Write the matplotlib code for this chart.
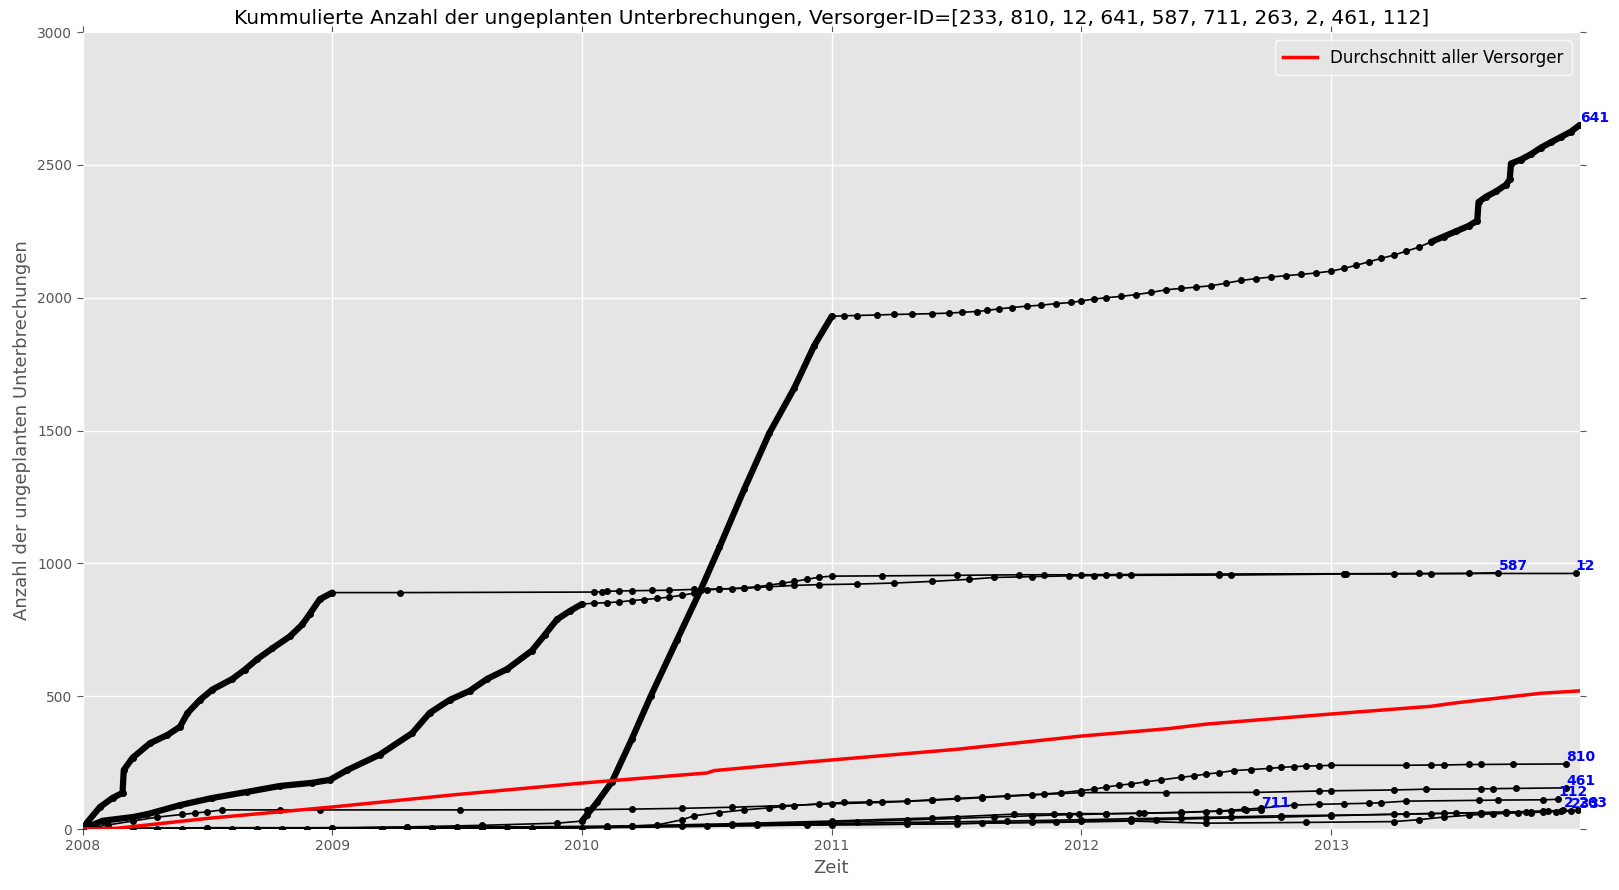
import matplotlib
matplotlib.use("Agg")
import matplotlib.pyplot as plt
import numpy as np

versorger_ids = [233, 810, 12, 641, 587, 711, 263, 2, 461, 112]

# cumulative counts, x in decimal years
x_641 = [2008.0, 2008.6, 2009.0, 2009.3, 2009.6, 2009.9, 2010.0, 2010.02, 2010.06, 2010.12, 2010.2, 2010.275,
         2010.38, 2010.475, 2010.55, 2010.65, 2010.75, 2010.85, 2010.93, 2011.0,
         2011.05, 2011.1, 2011.18, 2011.25, 2011.32, 2011.4, 2011.47, 2011.52, 2011.58, 2011.62, 2011.67,
         2011.72, 2011.78, 2011.84, 2011.9, 2011.96, 2012.0, 2012.05, 2012.1, 2012.16, 2012.22, 2012.28,
         2012.34, 2012.4, 2012.46, 2012.52, 2012.58, 2012.64, 2012.7, 2012.76, 2012.82, 2012.88, 2012.94,
         2013.0, 2013.05, 2013.1, 2013.15, 2013.2, 2013.25, 2013.3, 2013.35, 2013.4, 2013.45, 2013.5,
         2013.55, 2013.585, 2013.59, 2013.62, 2013.66, 2013.7, 2013.715, 2013.72, 2013.76, 2013.8, 2013.84,
         2013.88, 2013.92, 2013.96, 2013.995]
y_641 = [0, 2, 3, 8, 14, 22, 30, 54, 100, 178, 340, 500,
         711, 900, 1060, 1280, 1490, 1660, 1820, 1930,
         1932, 1933, 1935, 1937, 1938, 1940, 1942, 1945, 1948, 1952, 1958,
         1963, 1968, 1972, 1978, 1982, 1988, 1995, 2000, 2005, 2012, 2020,
         2030, 2035, 2040, 2045, 2055, 2065, 2072, 2078, 2083, 2088, 2093,
         2100, 2110, 2122, 2135, 2148, 2160, 2175, 2190, 2210, 2230, 2250,
         2270, 2290, 2360, 2380, 2400, 2425, 2445, 2505, 2520, 2540, 2565,
         2585, 2605, 2625, 2650]

x_587 = [2008.0, 2008.02, 2008.07, 2008.12, 2008.16, 2008.165, 2008.2, 2008.27, 2008.34, 2008.39, 2008.42,
         2008.47, 2008.52, 2008.6, 2008.65, 2008.7, 2008.76, 2008.83, 2008.88, 2008.91, 2008.95, 2009.0,
         2009.27, 2010.05, 2010.08, 2010.1, 2010.15, 2010.2, 2010.28, 2010.35, 2010.45, 2010.55, 2010.65,
         2010.75, 2010.85, 2010.95, 2011.1, 2011.25, 2011.4, 2011.55, 2011.65, 2011.8, 2011.95, 2012.05,
         2012.15, 2012.55, 2012.6, 2013.05, 2013.25, 2013.4, 2013.55, 2013.67]
y_587 = [0, 27, 83, 117, 136, 222, 268, 323, 354, 385, 436,
         486, 525, 565, 600, 640, 680, 725, 770, 810, 865, 890,
         890, 892, 893, 895, 896, 897, 898, 899, 902, 904, 906,
         912, 917, 920, 922, 926, 932, 940, 947, 950, 953, 954,
         955, 956, 956, 960, 960, 961, 962, 965]

x_12 = [2008.0, 2008.08, 2008.2, 2008.26, 2008.39, 2008.52, 2008.66, 2008.79, 2008.92, 2008.99, 2009.06,
        2009.19, 2009.32, 2009.39, 2009.47, 2009.55, 2009.62, 2009.7, 2009.8, 2009.85, 2009.9, 2009.95,
        2010.0, 2010.05, 2010.1, 2010.15, 2010.2, 2010.25, 2010.3, 2010.35, 2010.4, 2010.45, 2010.5,
        2010.55, 2010.6, 2010.65, 2010.7, 2010.75, 2010.8, 2010.85, 2010.9, 2010.95, 2011.0, 2011.2,
        2011.5, 2011.75, 2011.85, 2012.0, 2012.1, 2012.2, 2012.55, 2013.05, 2013.06, 2013.35, 2013.98]
y_12 = [0, 31, 45, 56, 90, 117, 140, 162, 174, 185, 222,
        280, 361, 437, 486, 520, 565, 602, 672, 730, 789, 820,
        847, 850, 852, 855, 860, 864, 868, 873, 880, 888, 900,
        903, 905, 908, 912, 918, 925, 932, 940, 948, 952, 953,
        955, 957, 957, 957, 958, 958, 960, 961, 961, 962, 962]

x_810 = [2008.0, 2008.7, 2009.4, 2010.0, 2010.3, 2010.4, 2010.45, 2010.55, 2010.65, 2010.75, 2010.85,
         2010.95, 2011.05, 2011.15, 2011.3, 2011.4, 2011.5, 2011.6, 2011.7, 2011.85, 2011.92, 2012.0,
         2012.05, 2012.1, 2012.15, 2012.2, 2012.26, 2012.32, 2012.4, 2012.45, 2012.5, 2012.55, 2012.61,
         2012.68, 2012.75, 2012.8, 2012.85, 2012.9, 2012.95, 2013.0, 2013.3, 2013.4, 2013.45, 2013.55,
         2013.6, 2013.73, 2013.94]
y_810 = [0, 1, 2, 4, 15, 35, 50, 62, 72, 80, 88,
         95, 100, 102, 105, 110, 115, 120, 125, 132, 137, 145,
         150, 158, 165, 170, 178, 185, 195, 200, 207, 212, 220,
         224, 228, 232, 235, 237, 238, 240, 240, 241, 241, 243,
         243, 244, 245]

x_461 = [2008.0, 2008.1, 2008.2, 2008.3, 2008.4, 2008.45, 2008.5, 2008.56, 2008.79, 2008.95, 2009.51,
         2010.02, 2010.2, 2010.4, 2010.6, 2010.8, 2011.0, 2011.2, 2011.4, 2011.6, 2011.8, 2012.0,
         2012.34, 2012.7, 2012.95, 2013.0, 2013.25, 2013.38, 2013.6, 2013.65, 2013.74, 2013.94]
y_461 = [0, 15, 30, 45, 55, 60, 65, 72, 72, 72, 72,
         73, 75, 78, 82, 88, 95, 100, 108, 118, 128, 137,
         137, 138, 143, 144, 147, 150, 151, 152, 153, 155]

x_112 = [2008.0, 2008.5, 2009.3, 2010.1, 2010.6, 2011.0, 2011.4, 2011.73, 2011.89, 2011.99, 2012.1,
         2012.23, 2012.4, 2012.55, 2012.65, 2012.72, 2012.85, 2012.95, 2013.05, 2013.15, 2013.2, 2013.3,
         2013.59, 2013.67, 2013.85, 2013.91]
y_112 = [0, 3, 6, 10, 20, 30, 42, 56, 57, 58, 58,
         59, 62, 68, 74, 79, 90, 93, 95, 97, 99, 105,
         108, 109, 110, 112]

x_711 = [2008.0, 2008.8, 2009.6, 2010.2, 2010.7, 2011.1, 2011.3, 2011.5, 2011.65, 2011.8, 2011.95,
         2012.1, 2012.25, 2012.4, 2012.5, 2012.6, 2012.66, 2012.72]
y_711 = [0, 2, 5, 10, 18, 28, 34, 40, 45, 50, 54,
         57, 60, 63, 66, 68, 70, 72]

x_233 = [2008.0, 2008.3, 2009.2, 2009.4, 2009.6, 2009.8, 2010.1, 2010.5, 2010.9, 2011.3, 2011.6,
         2011.9, 2012.2, 2012.5, 2012.9, 2013.25, 2013.35, 2013.45, 2013.55, 2013.6, 2013.65, 2013.7,
         2013.75, 2013.8, 2013.85, 2013.9, 2013.96]
y_233 = [0, 1, 2, 3, 4, 5, 5, 10, 15, 18, 22,
         25, 30, 22, 25, 28, 35, 45, 52, 55, 57, 59,
         61, 62, 64, 66, 68]

x_263 = [2008.0, 2008.2, 2008.5, 2009.0, 2009.5, 2010.2, 2010.6, 2011.0, 2011.3, 2011.7, 2012.0,
         2012.2, 2012.4, 2012.6, 2012.8, 2013.0, 2013.25, 2013.4, 2013.5, 2013.6, 2013.7, 2013.78,
         2013.85, 2013.92, 2013.99]
y_263 = [0, 3, 5, 5, 7, 10, 15, 20, 25, 30, 35,
         39, 42, 46, 50, 52, 55, 58, 60, 61, 63, 65,
         67, 69, 71]

x_2 = [2008.0, 2008.4, 2008.9, 2009.3, 2009.7, 2010.1, 2010.4, 2010.7, 2011.0, 2011.5, 2011.8,
       2012.0, 2012.3, 2012.5, 2012.8, 2013.0, 2013.3, 2013.45, 2013.6, 2013.7, 2013.8, 2013.87,
       2013.93]
y_2 = [0, 1, 2, 4, 6, 8, 12, 14, 16, 20, 26,
       30, 35, 40, 45, 50, 57, 59, 62, 64, 66, 68,
       70]

x_avg = [2008.0, 2008.14, 2008.5, 2009.0, 2009.5, 2010.0, 2010.5, 2010.53, 2010.9, 2011.5, 2012.0,
         2012.35, 2012.5, 2013.0, 2013.4, 2013.5, 2013.84, 2013.995]
y_avg = [0, 3, 40, 83, 130, 173, 211, 220, 252, 300, 350,
         378, 395, 433, 462, 475, 511, 520]

series = {233: (x_233, y_233), 810: (x_810, y_810), 12: (x_12, y_12), 641: (x_641, y_641),
          587: (x_587, y_587), 711: (x_711, y_711), 263: (x_263, y_263), 2: (x_2, y_2),
          461: (x_461, y_461), 112: (x_112, y_112)}

# stretches where the events are so dense the dots merge into a thick line
dense_spans = {641: [(2010.0, 2011.0), (2013.4, 2014.0)], 587: [(2008.0, 2009.0)], 12: [(2008.0, 2010.0)]}

plt.rcParams['font.family'] = ['DejaVu Sans']
fig = plt.figure(figsize=(16.19, 8.9), dpi=100)
ax = fig.add_axes([0.051, 0.0685, 0.925, 0.8955])
ax.set_facecolor('#E5E5E5')
for s in ax.spines.values():
    s.set_visible(False)
ax.grid(True, color='white', linestyle='-', linewidth=1)
ax.set_axisbelow(True)

for vid in versorger_ids:
    xs, ys = np.array(series[vid][0]), np.array(series[vid][1])
    for a, b in dense_spans.get(vid, []):
        m = (xs >= a) & (xs <= b)
        ax.plot(xs[m], ys[m], color='black', linewidth=4.5, solid_capstyle='round',
                solid_joinstyle='round', zorder=3)
    ax.plot(xs, ys, color='black', linewidth=1.2, marker='o', markersize=4, zorder=3)
    ax.text(xs[-1], ys[-1], str(vid), color='blue', fontweight='bold', fontsize=10,
            ha='left', va='bottom', zorder=5)

ax.plot(x_avg, y_avg, color='red', linewidth=2.5, label='Durchschnitt aller Versorger', zorder=4)

ax.set_xlim(2008.0, 2013.997)
ax.set_ylim(0, 3000)
ax.set_xticks([2008, 2009, 2010, 2011, 2012, 2013])
ax.set_xticklabels(['2008', '2009', '2010', '2011', '2012', '2013'])
ax.set_yticks([0, 500, 1000, 1500, 2000, 2500, 3000])
ax.tick_params(direction='out', top=True, right=True, color='#555555', labelcolor='#555555',
               labelsize=10, length=4)

ax.set_title('Kummulierte Anzahl der ungeplanten Unterbrechungen, Versorger-ID=['
             + ', '.join(str(v) for v in versorger_ids) + ']', fontsize=14.5)
ax.set_xlabel('Zeit', fontsize=13, color='#555555')
ax.set_ylabel('Anzahl der ungeplanten Unterbrechungen', fontsize=13, color='#555555')

leg = ax.legend(loc='upper right', fontsize=12, handlelength=2, borderpad=0.5)
leg.get_frame().set_facecolor('#E5E5E5')
leg.get_frame().set_edgecolor('white')

fig.savefig('out.png', dpi=100)
